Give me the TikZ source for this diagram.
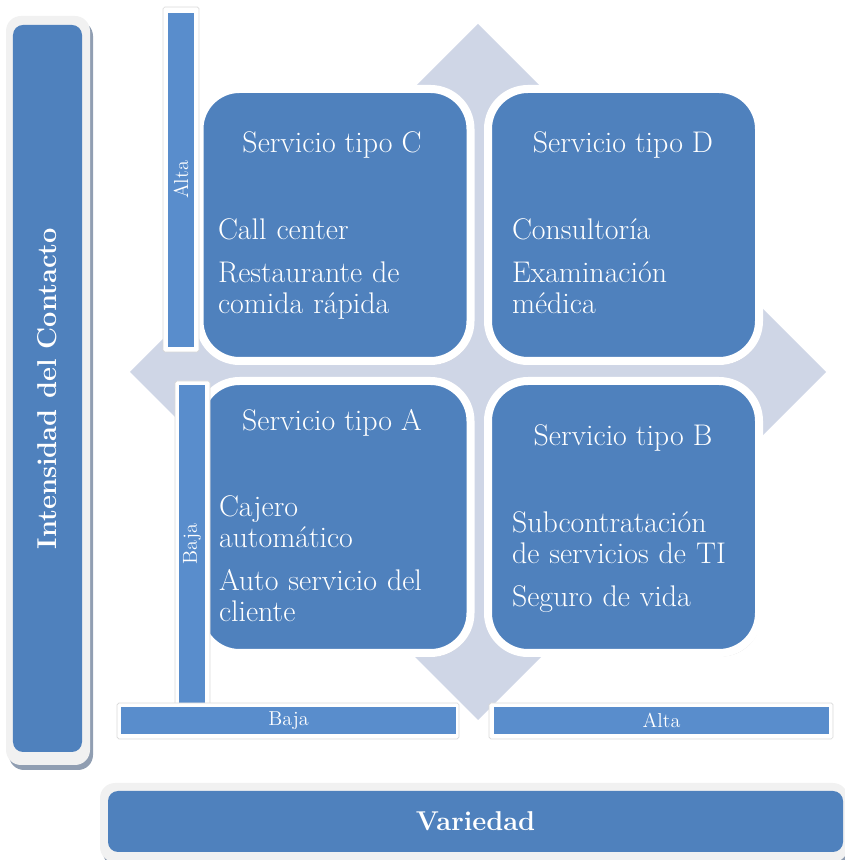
\documentclass[tikz,border=0pt]{standalone}
\usepackage{tikz}
\usetikzlibrary{shapes.geometric, shadows}
\definecolor{azul}{HTML}{4F81BD}
\definecolor{azulclaro}{HTML}{598DCC}
\definecolor{rombogris}{HTML}{CFD6E6}
\definecolor{marcogris}{HTML}{F1F1F1}
\definecolor{sombra}{HTML}{909EB2}
\newcommand{\servfont}{\fontsize{17}{17.4}\selectfont}
\newcommand{\ejefont}{\fontsize{15.5}{18}\selectfont\bfseries}
\newcommand{\nivelfont}{\fontsize{11.5}{13}\selectfont}
\tikzset{
    every node/.style={inner sep=0pt, outer sep=0pt},
    rombo/.style={diamond, aspect=1, fill=rombogris},
    servicio/.style={rectangle, rounded corners=0.8cm, fill=azul, draw=white,
        line width=0.16cm, minimum width=5.42cm, minimum height=5.44cm,
        drop shadow={shadow xshift=0.04cm, shadow yshift=-0.07cm, opacity=0.3}},
    titulo/.style={anchor=base, text=white, font=\servfont},
    lista/.style={anchor=base west, text width=4.9cm, align=left, text=white,
        font=\servfont},
    marco/.style={rectangle, rounded corners=0.3cm, fill=marcogris,
        drop shadow={shadow xshift=0.06cm, shadow yshift=-0.1cm, fill=sombra,
        opacity=1}},
    eje/.style={rectangle, rounded corners=0.2cm, fill=azul, text=white,
        font=\ejefont},
    nivelmarco/.style={rectangle, fill=white, draw=gray!30, line width=0.4pt,
        rounded corners=1pt},
    nivel/.style={rectangle, fill=azulclaro, text=white, font=\nivelfont}
}

\begin{document}
\begin{tikzpicture}
	\useasboundingbox (0,0) rectangle (16.88,17.2);
	\node (fondo) [rombo, minimum width=13.92cm, minimum height=13.92cm] at (9.56, 9.76) {};

	% cuadrantes
	\node (C) [servicio] at (6.7, 12.7) {};
	\node (D) [servicio] at (12.47, 12.7) {};
	\node (A) [servicio] at (6.7, 6.86) {};
	\node (B) [servicio] at (12.47, 6.86) {};

	\node (tC) [titulo] at (6.64, 14.14) {Servicio tipo C};
	\node (lC) [lista] at (4.36, 12.4) {Call center\\[7pt]Restaurante de\\comida rápida};
	\node (tD) [titulo] at (12.46, 14.14) {Servicio tipo D};
	\node (lD) [lista] at (10.24, 12.4) {Consultoría\\[7pt]Examinación\\médica};
	\node (tA) [titulo] at (6.64, 8.58) {Servicio tipo A};
	\node (lA) [lista] at (4.38, 6.86) {Cajero\\automático\\[7pt]Auto servicio del\\cliente};
	\node (tB) [titulo] at (12.46, 8.28) {Servicio tipo B};
	\node (lB) [lista] at (10.24, 6.54) {Subcontratación\\de servicios de TI\\[7pt]Seguro de vida};

	% niveles
	\node (mAltaV) [nivelmarco, minimum width=0.72cm, minimum height=6.9cm] at (3.62, 13.61) {};
	\node (altaV) [nivel, minimum width=6.68cm, minimum height=0.52cm, rotate=90] at (3.62, 13.6) {Alta};
	\node (mBajaV) [nivelmarco, minimum width=0.7cm, minimum height=6.52cm] at (3.85, 6.32) {};
	\node (bajaV) [nivel, minimum width=6.36cm, minimum height=0.52cm, rotate=90] at (3.84, 6.32) {Baja};
	\node (mBajaH) [nivelmarco, minimum width=6.84cm, minimum height=0.72cm] at (5.76, 2.78) {};
	\node (bajaH) [nivel, minimum width=6.7cm, minimum height=0.54cm] at (5.77, 2.79) {Baja};
	\node (mAltaH) [nivelmarco, minimum width=6.88cm, minimum height=0.72cm] at (13.22, 2.78) {};
	\node (altaH) [nivel, minimum width=6.7cm, minimum height=0.54cm] at (13.23, 2.79) {Alta};

	% ejes
	\node (mIntensidad) [marco, minimum width=1.68cm, minimum height=14.98cm] at (0.96, 9.39) {};
	\node (intensidad) [eje, minimum width=14.54cm, minimum height=1.38cm, rotate=90] at (0.95, 9.43) {Intensidad del Contacto};
	\node (mVariedad) [marco, minimum width=14.96cm, minimum height=1.58cm] at (9.48, 0.75) {};
	\node (variedad) [eje, minimum width=14.7cm, minimum height=1.22cm] at (9.51, 0.77) {Variedad};
\end{tikzpicture}
\end{document}
